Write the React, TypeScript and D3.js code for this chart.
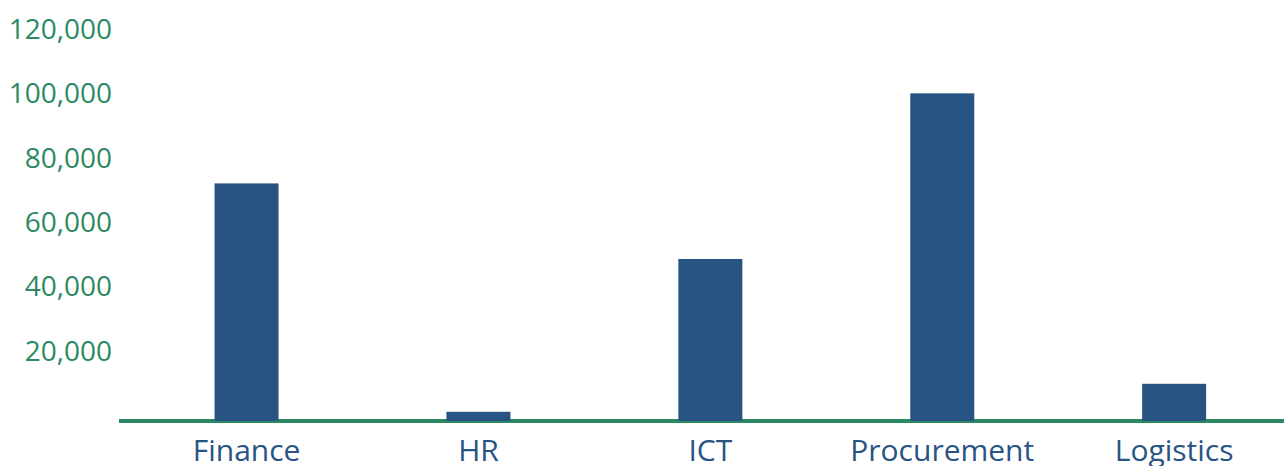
import React, { useEffect, useRef } from 'react';
import * as d3 from 'd3';

// Chart data
const categories = ['Finance', 'HR', 'ICT', 'Procurement', 'Logistics'];
const values = [72000, 1000, 48500, 100000, 9700];
const yTicks = [20000, 40000, 60000, 80000, 100000, 120000];

const GREEN = '#2b8a62';
const BLUE = '#285483';

const App: React.FC = () => {
    const svgRef = useRef<SVGSVGElement>(null);
    const width = 1284;
    const height = 466;

    useEffect(() => {
        document.body.style.margin = '0';
        if (!svgRef.current) return;
        const svg = d3.select(svgRef.current);
        svg.selectAll('*').remove();

        const font = '"Open Sans", sans-serif';

        const x = d3.scalePoint<string>()
            .domain(categories)
            .range([130.6, 1290.1])
            .padding(0.5);

        const y = d3.scaleLinear()
            .domain([0, 120000])
            .range([415, 29]);

        const barWidth = 64;
        const axisY = y(0) + 6;

        // Axis line
        svg.append('line')
            .attr('x1', 119)
            .attr('x2', width)
            .attr('y1', axisY)
            .attr('y2', axisY)
            .attr('stroke', GREEN)
            .attr('stroke-width', 4);

        // Bars
        svg.selectAll('.bar')
            .data(categories)
            .enter()
            .append('rect')
            .attr('class', 'bar')
            .attr('x', d => (x(d) as number) - barWidth / 2)
            .attr('y', (d, i) => y(values[i]))
            .attr('width', barWidth)
            .attr('height', (d, i) => axisY - y(values[i]))
            .attr('fill', BLUE);

        // Y tick labels
        const fmt = d3.format(',');
        svg.selectAll('.ytick')
            .data(yTicks)
            .enter()
            .append('text')
            .attr('class', 'ytick')
            .attr('x', 112)
            .attr('y', d => y(d) + 10)
            .attr('text-anchor', 'end')
            .attr('font-family', font)
            .attr('font-size', '28px')
            .attr('fill', GREEN)
            .text(d => fmt(d));

        // Category labels (the bottom of these is cropped in the original too)
        svg.selectAll('.xlabel')
            .data(categories)
            .enter()
            .append('text')
            .attr('class', 'xlabel')
            .attr('x', d => x(d) as number)
            .attr('y', 461)
            .attr('text-anchor', 'middle')
            .attr('font-family', font)
            .attr('font-size', '30px')
            .attr('fill', BLUE)
            .text(d => d);
    }, []);

    return (
        <svg
            ref={svgRef}
            width={width}
            height={height}
            style={{ display: 'block', background: '#ffffff' }}
        ></svg>
    );
};

export default App;
